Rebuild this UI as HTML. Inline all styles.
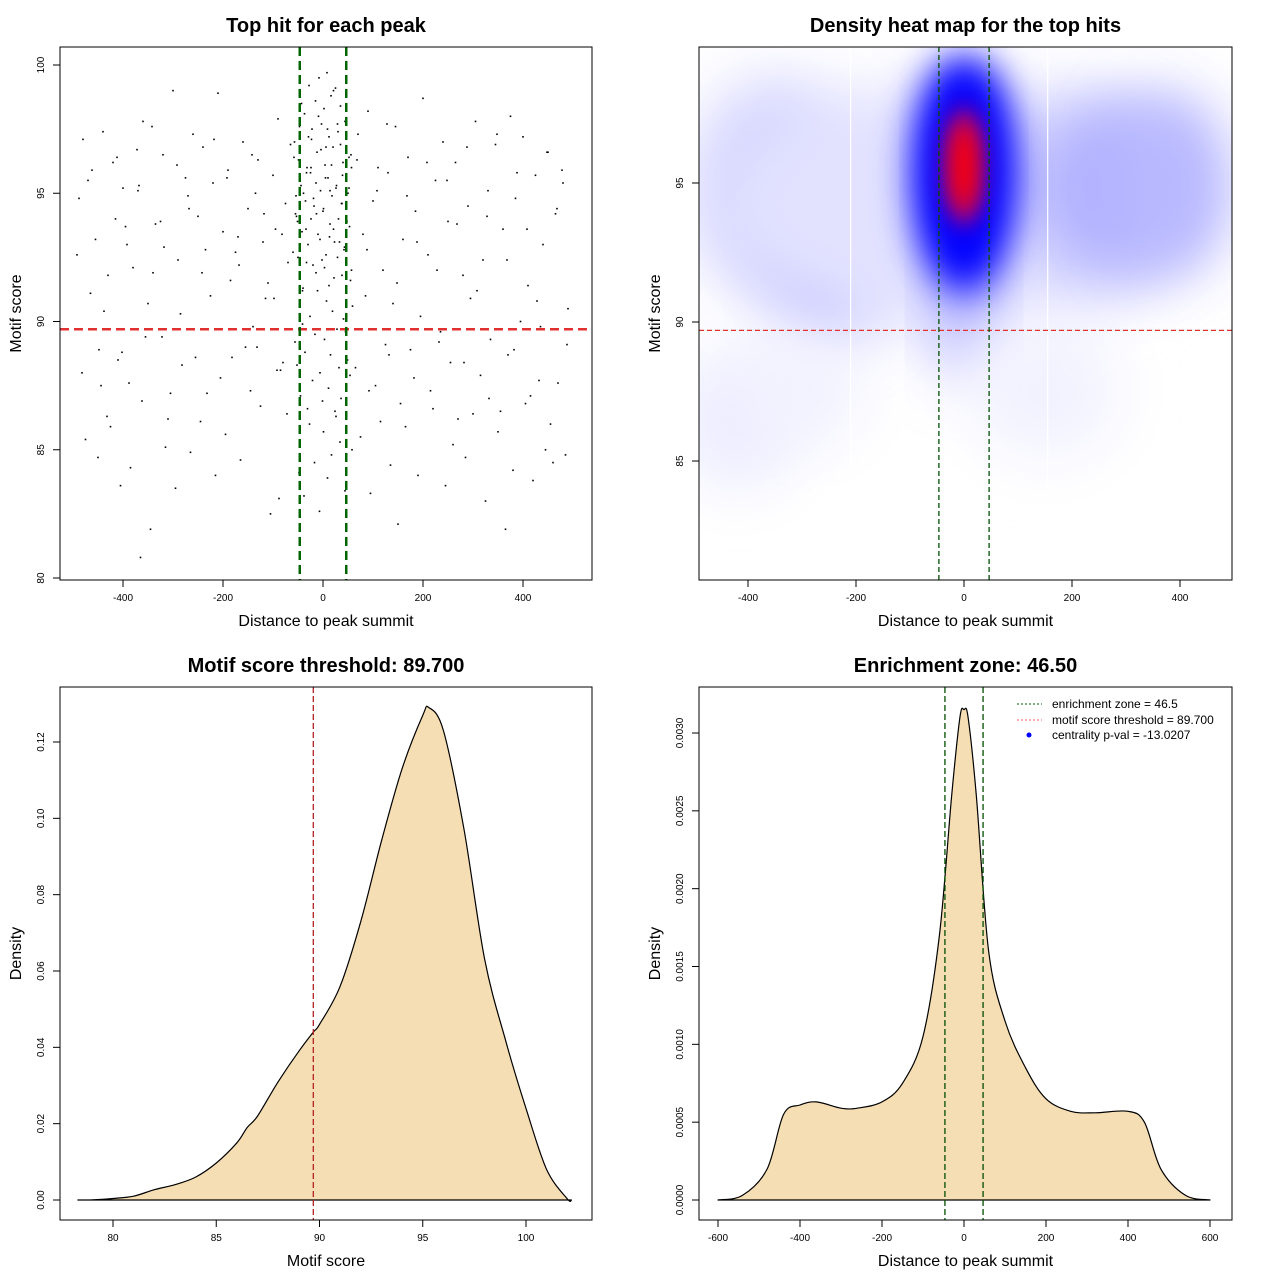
<!DOCTYPE html>
<html><head><meta charset="utf-8"><style>
body{margin:0;background:#fff}
svg{display:block;font-family:"Liberation Sans",sans-serif}
</style></head><body>
<svg id="s" width="1280" height="1280" viewBox="0 0 1280 1280" xmlns="http://www.w3.org/2000/svg">
<defs>
<filter id="blur" x="-50%" y="-50%" width="200%" height="200%"><feGaussianBlur stdDeviation="30"/></filter>
<filter id="blur2" x="-50%" y="-50%" width="200%" height="200%"><feGaussianBlur stdDeviation="20"/></filter>
<filter id="blur3" x="-50%" y="-50%" width="200%" height="200%"><feGaussianBlur stdDeviation="11"/></filter>
<clipPath id="hmclip"><rect x="699" y="47" width="533" height="533"/></clipPath>
</defs>
</svg>
<script>
// ---- Panel 1 data: scatter (distance, score)
const scatterX=[-480,-470,-455,-440,-430,-420,-410,-395,-380,-370,-360,-350,-335,-320,-310,-300,-290,-275,-260,-250,-240,-225,-210,-200,-190,-175,-160,-150,-140,-130,-120,-110,-100,-90,-85,-75,-70,-65,
-488,-465,-448,-432,-415,-400,-388,-372,-355,-340,-325,-305,-285,-270,-255,-235,-220,-205,-185,-170,-155,-135,-115,-95,-80,
-475,-450,-425,-405,-385,-365,-345,-315,-295,-265,-245,-215,-195,-165,-145,-125,-105,-88,-72,
-58,-55,-50,-47,-44,-40,-37,-35,-32,-30,-28,-25,-22,-20,-18,-15,-12,-10,-8,-5,-3,0,2,4,6,8,10,12,14,16,18,20,22,25,27,30,33,35,38,40,43,46,50,53,56,59,
-56,-52,-45,-41,-36,-31,-26,-21,-16,-11,-6,-1,3,7,11,15,19,24,28,32,36,41,45,49,54,58,
-48,-38,-27,-17,-7,1,9,17,26,34,44,52,
70,80,90,100,110,120,130,145,160,170,185,200,210,225,240,250,265,280,290,305,320,330,345,360,375,385,400,410,425,440,450,465,480,490,
65,85,105,125,140,155,175,195,215,235,255,270,295,315,335,355,370,395,415,435,455,470,485,
75,95,115,135,150,165,190,220,245,260,285,300,325,350,365,380,405,420,445,460,478,
-57,-53,-49,-43,-39,-34,-29,-24,-19,-14,-9,-4,1,5,9,13,17,21,26,31,35,39,44,48,52,57,
-54,-46,-42,-33,-23,-13,-2,6,14,23,29,37,42,55,
-60,-51,-41,-33,-24,-14,-6,3,12,21,29,38,47,57,
-492,-462,-438,-412,-392,-368,-342,-318,-292,-268,-242,-218,-192,-168,-142,-118,-98,-82,
68,88,108,128,148,168,188,208,228,248,268,288,308,328,348,368,388,408,428,448,468,488,
-482,-444,-402,-362,-322,-282,-232,-182,-132,-92,92,132,182,232,282,332,382,432,472];
const scatterY=[97.1,95.5,93.2,97.4,91.8,96.2,88.5,93.7,92.1,95.1,97.8,90.7,93.8,96.5,86.2,99.0,92.4,95.6,97.3,94.1,96.8,91.0,98.9,93.5,95.9,92.7,97.0,94.4,89.8,96.3,93.1,91.5,95.7,97.9,88.1,94.6,92.3,96.9,
94.8,91.1,88.9,86.3,94.0,95.2,87.6,96.7,89.4,91.9,93.9,87.2,90.3,94.9,88.6,92.8,95.4,87.8,91.6,93.3,89.0,95.0,90.9,93.6,88.4,
85.4,84.7,85.9,83.6,84.3,80.8,81.9,85.1,83.5,84.9,86.1,84.0,85.6,84.6,87.3,86.7,82.5,83.1,86.4,
96.4,94.2,92.5,97.6,95.3,91.3,98.1,94.7,96.0,93.0,99.2,95.8,97.5,92.2,94.5,98.6,96.6,93.4,99.5,95.1,97.7,94.3,98.3,96.1,92.6,99.7,95.6,97.2,93.8,98.8,94.9,96.8,91.7,99.1,95.3,97.4,93.1,98.4,94.6,96.2,92.9,97.9,95.0,93.7,96.5,
90.6,89.2,88.3,87.1,89.9,88.8,86.6,90.2,87.7,89.5,91.2,88.0,86.9,89.3,90.8,87.4,88.7,90.4,86.5,89.7,88.2,87.0,90.1,89.6,88.5,87.9,
85.0,84.1,83.2,86.0,84.5,82.6,85.7,83.9,84.8,86.3,85.3,83.4,
95.2,97.3,93.4,98.2,94.7,96.0,92.0,95.8,97.6,93.2,96.4,94.3,98.7,92.6,95.5,97.0,93.9,96.2,91.8,94.5,97.8,92.4,95.1,96.9,93.6,98.0,94.8,97.2,91.4,95.7,93.0,96.6,94.2,95.4,
90.5,88.2,91.0,87.5,89.1,90.7,86.8,88.9,90.2,87.3,89.6,88.4,86.2,90.9,87.9,89.3,86.5,88.7,90.0,87.1,89.8,86.0,87.6,
84.8,85.5,83.3,86.1,84.4,82.1,85.9,84.0,86.6,83.6,85.2,84.7,86.4,83.0,85.7,81.9,84.2,86.8,83.8,85.0,84.5,
95.9,97.0,94.1,96.3,98.5,95.0,93.6,97.2,96.0,94.8,95.4,98.0,96.7,94.4,95.6,97.5,93.3,96.1,99.0,95.2,94.0,96.9,95.7,97.8,93.9,96.4,
92.0,94.9,96.6,93.5,95.8,97.1,94.2,92.4,96.8,95.1,93.1,97.7,94.6,92.8,
91.6,92.7,93.9,91.2,92.3,94.0,91.9,93.2,92.1,91.4,93.6,92.5,91.8,93.0,
96.0,92.6,95.9,90.4,96.4,93.0,95.3,97.6,92.9,96.1,94.4,91.9,97.1,95.6,92.2,96.5,94.2,90.9,
93.4,96.3,92.8,95.1,97.7,91.5,94.9,93.1,96.2,92.0,95.5,93.8,96.8,91.2,94.1,97.3,92.4,95.8,93.6,90.8,96.6,94.4,
89.1,88.0,87.5,88.8,86.9,89.4,88.3,87.2,88.6,89.0,88.1,87.3,88.7,87.8,89.2,88.4,87.0,88.9,87.7];
// ---- Panel 2 heatmap blobs (centre distance, centre score, rx, ry, colour)
const hmCX=[-350,-250,0,270,380,-420,0,-300,150,0,0,0,0];
const hmCY=[94.8,91.5,94.2,94.8,95.0,86.5,90.5,87.5,87.5,95.3,95.5,95.6,95.6];
const hmRX=[160,100,440,150,110,120,55,120,140,95,60,38,24];
const hmRY=[4.0,2.2,4.5,3.2,3.2,2.5,2.5,2.0,2.5,4.3,3.4,2.2,1.6];
const hmColor=['#d4d4ff','#bcbcff','#e2e2ff','#b0b0ff','#b8b8ff','#ececff','#b4b4ff','#f2f2ff','#f2f2ff','#0000ff','#0000ff','#a00080','#ff0000'];
// ---- Panel 3 density
const d3X=[78.3,79,80,81,82,83,84,85,86,86.5,87,88,89,89.7,90,91,92,93,94,95,95.3,96,97,98,99,100,101,102,102.2];
const d3Y=[0,0.00005,0.0004,0.001,0.0027,0.004,0.006,0.0097,0.015,0.019,0.022,0.031,0.039,0.044,0.046,0.056,0.073,0.094,0.113,0.127,0.129,0.123,0.097,0.063,0.042,0.024,0.008,0.0003,0];
// ---- Panel 4 density
const d4X=[-600,-540,-480,-440,-400,-360,-300,-260,-200,-150,-100,-60,-30,-10,0,10,30,60,100,150,200,260,320,400,440,480,540,600];
const d4Y=[0,0.00003,0.0002,0.00055,0.00061,0.00063,0.00059,0.00059,0.00063,0.00075,0.00105,0.0017,0.0026,0.0031,0.00315,0.0031,0.0026,0.0016,0.00115,0.00085,0.00065,0.00057,0.00056,0.00057,0.0005,0.0002,0.00003,0];
const xTicks1=[-400,-200,0,200,400], yTicks1=[80,85,90,95,100];
const xTicks2=[-400,-200,0,200,400], yTicks2=[85,90,95];
const xTicks3=[80,85,90,95,100], yTicks3=[0,0.02,0.04,0.06,0.08,0.10,0.12];
const yLab3=['0.00','0.02','0.04','0.06','0.08','0.10','0.12'];
const xTicks4=[-600,-400,-200,0,200,400,600], yTicks4=[0,0.0005,0.001,0.0015,0.002,0.0025,0.003];
const yLab4=['0.0000','0.0005','0.0010','0.0015','0.0020','0.0025','0.0030'];

const S=document.getElementById('s'),NS='http://www.w3.org/2000/svg';
function mk(t,a,p,txt){const e=document.createElementNS(NS,t);for(const k in a)e.setAttribute(k,a[k]);if(txt!==undefined)e.textContent=txt;(p||S).appendChild(e);return e;}
function lin(d0,d1,p0,p1){return v=>p0+(v-d0)*(p1-p0)/(d1-d0);}
function smooth(P){let d='M'+P[0][0].toFixed(1)+','+P[0][1].toFixed(1);
 for(let i=0;i<P.length-1;i++){const p0=P[i-1]||P[i],p1=P[i],p2=P[i+1],p3=P[i+2]||p2;
  d+=`C${(p1[0]+(p2[0]-p0[0])/6).toFixed(1)},${(p1[1]+(p2[1]-p0[1])/6).toFixed(1)} ${(p2[0]-(p3[0]-p1[0])/6).toFixed(1)},${(p2[1]-(p3[1]-p1[1])/6).toFixed(1)} ${p2[0].toFixed(1)},${p2[1].toFixed(1)}`;}
 return d;}
function axes(g,box,sx,sy,xt,yt,xl,yl,title,xlab,ylab){
 let e=mk('text',{x:(box[0]+box[2])/2,y:box[1]-15,'text-anchor':'middle','font-size':20,'font-weight':'bold'},g,title);
 
 
 const xa=mk('g',{},g);
 
 
 xt.forEach((v,i)=>{mk('line',{x1:sx(v),x2:sx(v),y1:box[3],y2:box[3]+7,stroke:'#000'},xa);
  mk('text',{x:sx(v),y:box[3]+21,'text-anchor':'middle','font-size':10},xa,xl?xl[i]:v);});
 const ya=mk('g',{},g);
 
 
 yt.forEach((v,i)=>{mk('line',{x1:box[0]-7,x2:box[0],y1:sy(v),y2:sy(v),stroke:'#000'},ya);
  const y=sy(v);mk('text',{x:box[0]-16,y:y,'text-anchor':'middle','font-size':10,transform:`rotate(-90 ${box[0]-16} ${y})`},ya,yl?yl[i]:v);});
 e=mk('text',{x:(box[0]+box[2])/2,y:box[3]+46,'text-anchor':'middle','font-size':16},g,xlab);
 
 
 const cy=(box[1]+box[3])/2,tx=box[0]-39;
 e=mk('text',{x:tx,y:cy,'text-anchor':'middle','font-size':16,transform:`rotate(-90 ${tx} ${cy})`},g,ylab);
 
 
}
function box(g,b){const r=mk('rect',{x:b[0],y:b[1],width:b[2]-b[0],height:b[3]-b[1],fill:'none',stroke:'#000'},g);
 
 }

// Panel 1
{const g=mk('g',{});
 const b=[60,47,592,580];const sx=lin(0,400,323,523),sy=lin(80,100,578,65);
 axes(g,b,sx,sy,xTicks1,yTicks1,null,null,'Top hit for each peak','Distance to peak summit','Motif score');
 const n=Math.min(scatterX.length,scatterY.length);
 for(let i=0;i<n;i++){const p=mk('rect',{x:sx(scatterX[i])-0.8,y:sy(scatterY[i])-0.8,width:1.6,height:1.6,fill:'#000'},g);
  }
 let l=mk('line',{x1:b[0],x2:b[2],y1:sy(89.7),y2:sy(89.7),stroke:'#e03030','stroke-width':2.5,'stroke-dasharray':'9 5'},g);
 
 [-46.5,46.5].forEach(v=>{l=mk('line',{x1:sx(v),x2:sx(v),y1:b[1],y2:b[3],stroke:'#006400','stroke-width':2.5,'stroke-dasharray':'9 5'},g);
  });
 box(g,b);}
// Panel 2
{const g=mk('g',{});
 const b=[699,47,1232,580];const sx=lin(0,400,964,1180),sy=lin(85,95,461,183);
 const hm=mk('g',{'clip-path':'url(#hmclip)'},g);
 mk('rect',{x:b[0],y:b[1],width:533,height:533,fill:'#fff'},hm);
 hmCX.forEach((cx,i)=>{const f=i>=11?'url(#blur3)':(i>=9?'url(#blur2)':'url(#blur)');
  const e=mk('ellipse',{cx:sx(cx),cy:sy(hmCY[i]),rx:hmRX[i]*0.54,ry:hmRY[i]*27.8,fill:hmColor[i],filter:f},hm);
  });
 [-210,155].forEach(v=>mk('line',{x1:sx(v),x2:sx(v),y1:b[1],y2:b[3],stroke:'#fff','stroke-width':1.2},hm));
 let l=mk('line',{x1:b[0],x2:b[2],y1:sy(89.7),y2:sy(89.7),stroke:'#e03030','stroke-width':1.3,'stroke-dasharray':'5 3'},g);
 
 [-46.5,46.5].forEach(v=>{l=mk('line',{x1:sx(v),x2:sx(v),y1:b[1],y2:b[3],stroke:'#005000','stroke-width':1.3,'stroke-dasharray':'5 3'},g);
  });
 axes(g,b,sx,sy,xTicks2,yTicks2,null,null,'Density heat map for the top hits','Distance to peak summit','Motif score');
 box(g,b);}
// Panel 3
{const g=mk('g',{});
 const b=[60,687,592,1220];const sx=lin(80,100,113,526),sy=lin(0,0.12,1200,742);
 axes(g,b,sx,sy,xTicks3,yTicks3,null,yLab3,'Motif score threshold: 89.700','Motif score','Density');
 const P=d3X.map((x,i)=>[sx(x),sy(d3Y[i])]);
 const p=mk('path',{d:smooth(P)+'Z',fill:'#f5deb3',stroke:'#000','stroke-width':1.2,'stroke-linejoin':'round'},g);
 
 const l=mk('line',{x1:sx(89.7),x2:sx(89.7),y1:b[1],y2:b[3],stroke:'#b22222','stroke-width':1.3,'stroke-dasharray':'6 3'},g);
 
 box(g,b);}
// Panel 4
{const g=mk('g',{});
 const b=[699,687,1232,1220];const sx=lin(0,600,964,1210),sy=lin(0,0.003,1200,733);
 axes(g,b,sx,sy,xTicks4,yTicks4,null,yLab4,'Enrichment zone: 46.50','Distance to peak summit','Density');
 const P=d4X.map((x,i)=>[sx(x),sy(d4Y[i])]);
 const p=mk('path',{d:smooth(P)+'Z',fill:'#f5deb3',stroke:'#000','stroke-width':1.2,'stroke-linejoin':'round'},g);
 
 [-46.5,46.5].forEach(v=>{const l=mk('line',{x1:sx(v),x2:sx(v),y1:b[1],y2:b[3],stroke:'#005000','stroke-width':1.3,'stroke-dasharray':'6 3'},g);
  });
 const lg=mk('g',{},g);
 mk('line',{x1:1017,x2:1042,y1:704,y2:704,stroke:'#006400','stroke-dasharray':'2 2'},lg);
 mk('line',{x1:1017,x2:1042,y1:720,y2:720,stroke:'#ff6060','stroke-dasharray':'2 2'},lg);
 mk('circle',{cx:1029,cy:735,r:2.5,fill:'#0000ff'},lg);
 mk('text',{x:1052,y:708,'font-size':12},lg,'enrichment zone = 46.5');
 mk('text',{x:1052,y:724,'font-size':12},lg,'motif score threshold = 89.700');
 mk('text',{x:1052,y:739,'font-size':12},lg,'centrality p-val = -13.0207');
 box(g,b);}
</script>
</body></html>
